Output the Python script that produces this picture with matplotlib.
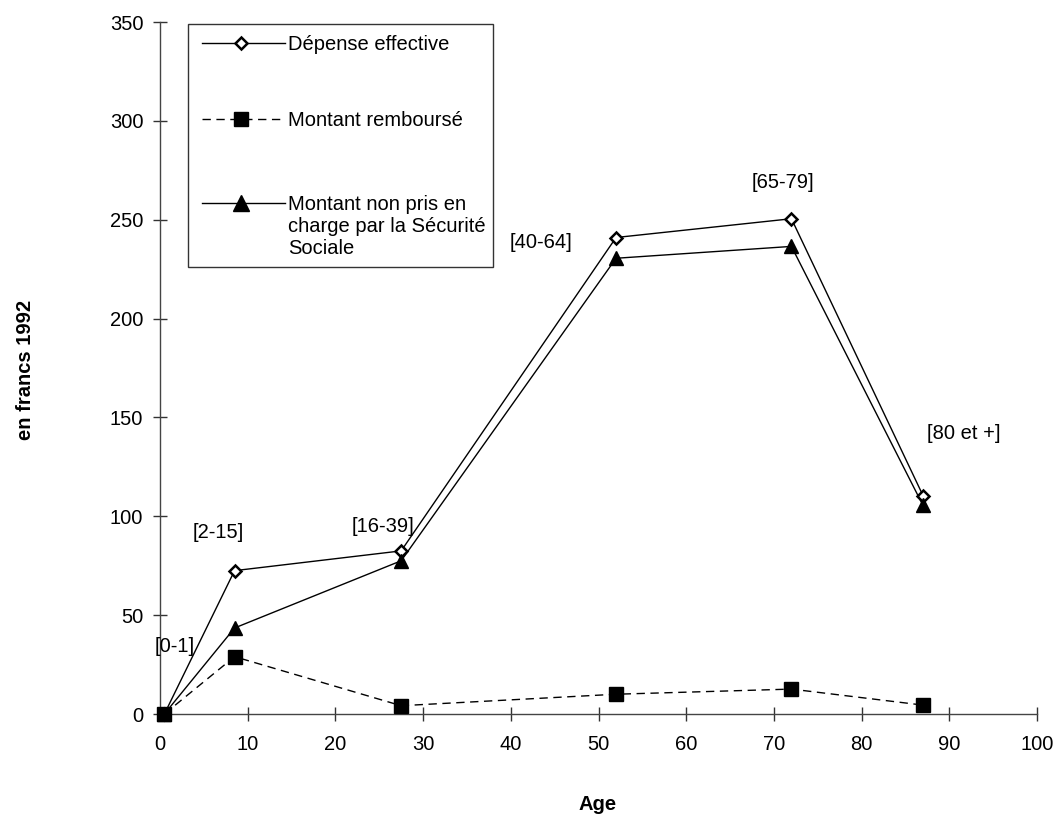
import matplotlib
matplotlib.use("Agg")
import matplotlib.pyplot as plt
from matplotlib.lines import Line2D
from matplotlib.patches import Rectangle

plt.rcParams['font.family'] = ['Liberation Sans', 'DejaVu Sans']

# Data
age = [0.5, 8.5, 27.5, 52.0, 72.0, 87.0]
depense = [0, 72.5, 82.5, 241, 250.5, 110.5]
rembourse = [0, 29, 4.2, 10, 12.6, 4.5]
non_pris = [0, 43.5, 77.5, 230.5, 236.5, 105.5]
group_labels = ["[0-1]", "[2-15]", "[16-39]", "[40-64]", "[65-79]", "[80 et +]"]
label_x = [1.7, 6.6, 25.4, 43.5, 71.0, 91.6]
label_y = [34, 92, 95, 238.5, 269, 142]

legend_labels = ["Dépense effective", "Montant remboursé",
                 "Montant non pris en\ncharge par la Sécurité\nSociale"]

FS = 14.5

fig = plt.figure(figsize=(10.55, 8.14), dpi=100)
ax = fig.add_axes([160/1055, 1-714/814, (1037-160)/1055, (714-22)/814])

ax.plot(age, depense, color='black', lw=1, marker='D', ms=6.5,
        mfc='white', mec='black', mew=1.8, zorder=3)
ax.plot(age, non_pris, color='black', lw=1, marker='^', ms=10,
        mfc='black', mec='black', zorder=3)
ax.plot(age, rembourse, color='black', lw=1, linestyle=(0, (6, 4)), marker='s', ms=10,
        mfc='black', mec='black', zorder=4)

for t, x, y in zip(group_labels, label_x, label_y):
    ax.text(x, y, t, ha='center', va='center', fontsize=FS)

ax.set_xlim(0, 100)
ax.set_ylim(0, 350)
ax.set_xticks(range(0, 101, 10))
ax.set_yticks(range(0, 351, 50))
ax.tick_params(direction='inout', length=10, width=1, labelsize=FS, pad=7,
               colors='#333333', labelcolor='black')
ax.tick_params(axis='x', pad=10)
for s in ['top', 'right']:
    ax.spines[s].set_visible(False)
for s in ['left', 'bottom']:
    ax.spines[s].set_color('#444444')
    ax.spines[s].set_linewidth(1)
for ln in ax.lines:
    ln.set_clip_on(False)

fig.text(598/1055, 1-804/814, "Age", ha='center', va='center', fontsize=FS, fontweight='bold')
fig.text(26/1055, 1-370/814, "en francs 1992", ha='center', va='center', rotation=90,
         fontsize=FS, fontweight='bold')

# Legend drawn manually in figure pixel coordinates
def fx(px):
    return px / 1055
def fy(py):
    return 1 - py / 814

fig.patches.append(Rectangle((fx(188), fy(267)), fx(493) - fx(188), fy(24) - fy(267),
                             transform=fig.transFigure, fill=False, edgecolor='#333333', lw=1))
styles = [dict(ls='-', marker='D', ms=6.5, mfc='white', mew=1.8),
          dict(ls=(0, (6, 4)), marker='s', ms=10.5, mfc='black', mew=1),
          dict(ls='-', marker='^', ms=11, mfc='black', mew=1)]
ypos = [43, 119, 203]
for st, yy, lab in zip(styles, ypos, legend_labels):
    fig.lines.append(Line2D([fx(202), fx(285)], [fy(yy), fy(yy)], transform=fig.transFigure,
                            color='black', lw=1, ls=st['ls']))
    fig.lines.append(Line2D([fx(241)], [fy(yy)], transform=fig.transFigure, color='black',
                            marker=st['marker'], ms=st['ms'], mfc=st['mfc'], mec='black',
                            mew=st['mew'], ls='none'))
    fig.text(fx(288), fy(yy - 8), lab, ha='left', va='top', fontsize=FS, linespacing=1.19)

fig.savefig("out.png", dpi=100)
